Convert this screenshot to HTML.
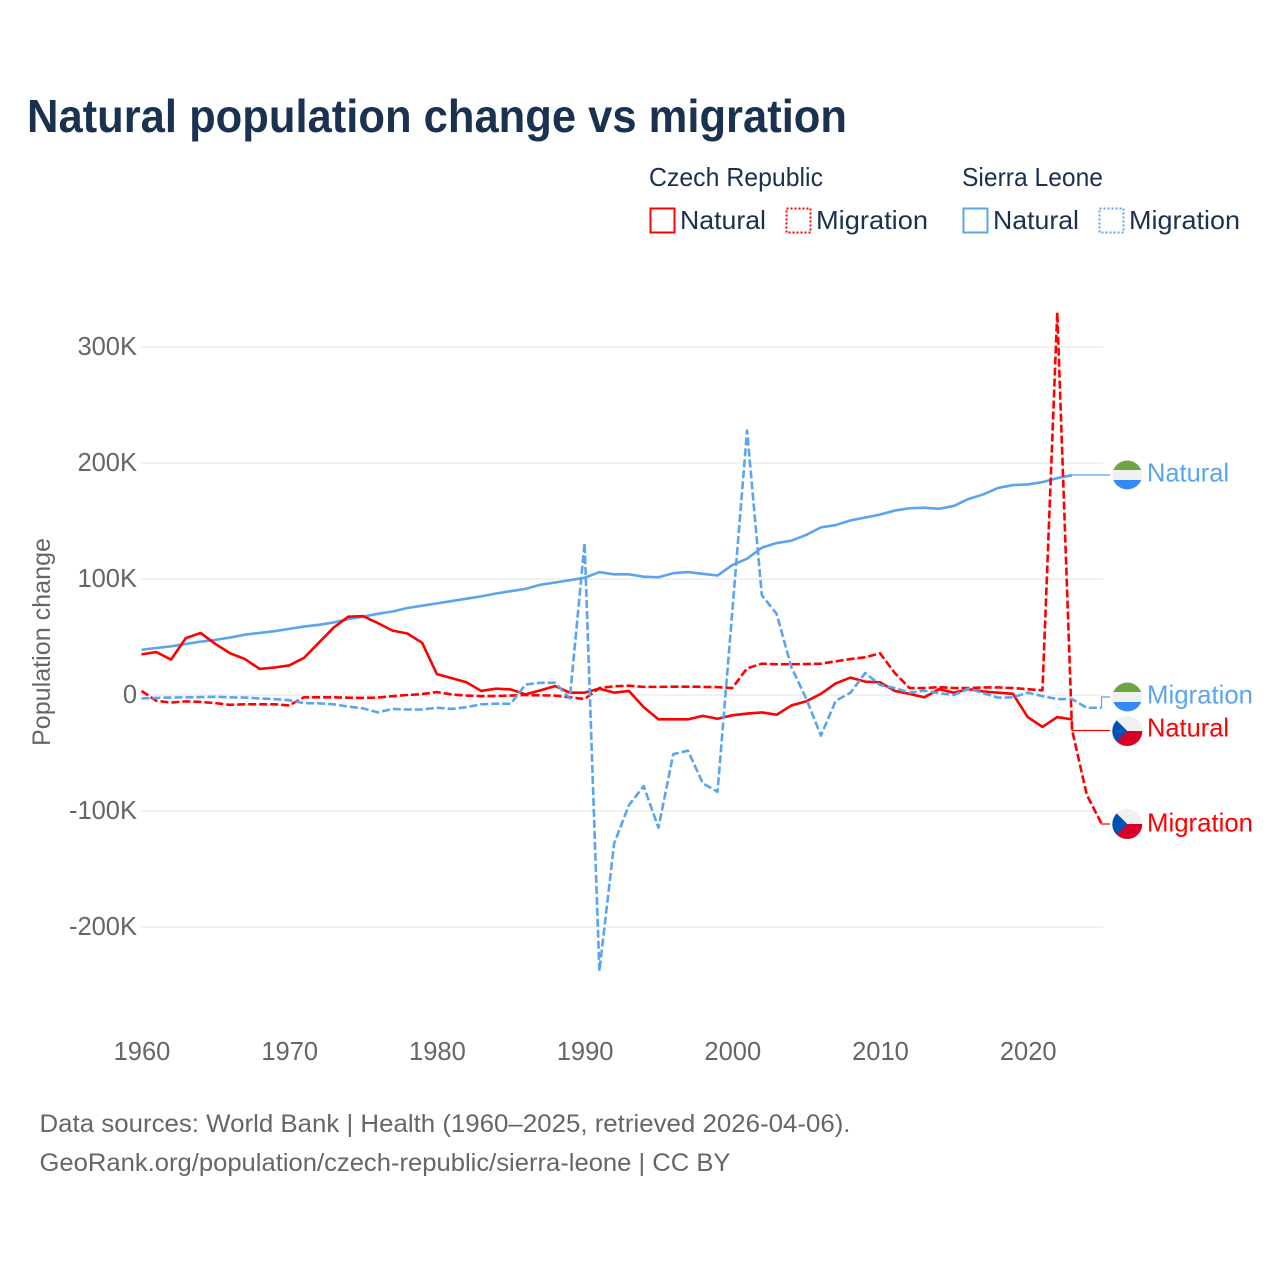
<!DOCTYPE html>
<html lang="en">
<head>
<meta charset="utf-8">
<title>Natural population change vs migration</title>
<style>
html,body{margin:0;padding:0;background:#fff;width:1280px;height:1280px;overflow:hidden}
svg{display:block}
text{font-family:"Liberation Sans",sans-serif}
</style>
</head>
<body>
<svg id="chart" width="1280" height="1280" viewBox="0 0 1280 1280" xmlns="http://www.w3.org/2000/svg">
  <rect width="1280" height="1280" fill="#ffffff"/>
  <text x="27" y="132" font-size="46" font-weight="700" fill="#1a3150" textLength="820" lengthAdjust="spacingAndGlyphs">Natural population change vs migration</text>

  <g font-size="26" fill="#1a3150">
    <text x="649" y="186" textLength="174" lengthAdjust="spacingAndGlyphs">Czech Republic</text>
    <text x="962" y="186" textLength="141" lengthAdjust="spacingAndGlyphs">Sierra Leone</text>
    <rect x="650.5" y="208.5" width="24" height="24" fill="none" stroke="#ff0000" stroke-width="2"/>
    <text x="680" y="229" textLength="86" lengthAdjust="spacingAndGlyphs">Natural</text>
    <rect x="786.5" y="208.5" width="24" height="24" fill="none" stroke="#ff0000" stroke-width="2" stroke-dasharray="2 2"/>
    <text x="816" y="229" textLength="112" lengthAdjust="spacingAndGlyphs">Migration</text>
    <rect x="963.5" y="208.5" width="24" height="24" fill="none" stroke="#5ba4ee" stroke-width="2"/>
    <text x="993" y="229" textLength="86" lengthAdjust="spacingAndGlyphs">Natural</text>
    <rect x="1099.5" y="208.5" width="24" height="24" fill="none" stroke="#5ba4ee" stroke-width="2" stroke-dasharray="2 2"/>
    <text x="1129" y="229" textLength="111" lengthAdjust="spacingAndGlyphs">Migration</text>
  </g>

  <g id="grid"></g>
  <g id="yticks"></g>
  <g id="xticks"></g>
  <text transform="translate(50 642) rotate(-90)" text-anchor="middle" font-size="25" fill="#666666" textLength="208" lengthAdjust="spacingAndGlyphs">Population change</text>
  <g id="connectors"></g>
  <g id="series"></g>

  <g transform="translate(1127.3 475)">
    <circle r="15" fill="#f0f0f0"/>
    <path d="M-13.9-5A15 15 0 0 1 13.9-5Z" fill="#6da544"/>
    <path d="M-13.9 5A15 15 0 0 0 13.9 5Z" fill="#338af3"/>
  </g>
  <g transform="translate(1127.3 697)">
    <circle r="15" fill="#f0f0f0"/>
    <path d="M-13.9-5A15 15 0 0 1 13.9-5Z" fill="#6da544"/>
    <path d="M-13.9 5A15 15 0 0 0 13.9 5Z" fill="#338af3"/>
  </g>
  <g transform="translate(1127.3 731)">
    <circle r="15" fill="#f0f0f0"/>
    <path d="M-15 0A15 15 0 0 0 15 0Z" fill="#d80027"/>
    <path d="M-10.6-10.6A15 15 0 0 0-10.6 10.6L0 0Z" fill="#0052b4"/>
  </g>
  <g transform="translate(1127.3 824)">
    <circle r="15" fill="#f0f0f0"/>
    <path d="M-15 0A15 15 0 0 0 15 0Z" fill="#d80027"/>
    <path d="M-10.6-10.6A15 15 0 0 0-10.6 10.6L0 0Z" fill="#0052b4"/>
  </g>

  <g font-size="26">
    <text x="1147" y="481.5" fill="#5ba4ee" textLength="82" lengthAdjust="spacingAndGlyphs">Natural</text>
    <text x="1147" y="703.5" fill="#5ba4ee" textLength="106" lengthAdjust="spacingAndGlyphs">Migration</text>
    <text x="1147" y="736.5" fill="#ff0000" textLength="82" lengthAdjust="spacingAndGlyphs">Natural</text>
    <text x="1147" y="831.5" fill="#ff0000" textLength="106" lengthAdjust="spacingAndGlyphs">Migration</text>
  </g>

  <g font-size="25" fill="#666666">
    <text x="39.5" y="1132" textLength="811" lengthAdjust="spacingAndGlyphs">Data sources: World Bank | Health (1960–2025, retrieved 2026-04-06).</text>
    <text x="39.5" y="1171" textLength="691" lengthAdjust="spacingAndGlyphs">GeoRank.org/population/czech-republic/sierra-leone | CC BY</text>
  </g>
</svg>
<script>
const startYear = 1960;
const xTickYears = [1960, 1970, 1980, 1990, 2000, 2010, 2020];
const yTickValues = [300, 200, 100, 0, -100, -200];
const yTickLabels = ["300K", "200K", "100K", "0", "-100K", "-200K"];

// Values in thousands, one per year from 1960
const czechNatural = [35, 37, 30.5, 49, 53.5, 44, 36, 31, 22.5, 23.7, 25.5, 32, 45, 58, 67.5, 68, 62, 55.5, 53, 45,
  18, 14.5, 11, 3.5, 5.5, 4.8, 0.5, 4, 7.7, 2, 2, 5.5, 2, 3.5, -10.5, -21, -21, -21, -18, -20.5,
  -17.5, -16, -15, -17, -9, -5.5, 1, 10, 15, 11.5, 11, 3.5, 1, -2, 5, 2, 5, 3, 2, 1,
  -19, -27.5, -19, -21];
const czechMigration = [3.5, -5, -6.5, -5.5, -6, -7, -8.5, -8, -8, -8, -9, -2, -2, -2, -2.3, -2.5, -2.2, -1, 0, 0.8,
  2.5, 0.5, -0.5, -1, -0.8, -0.5, 0, -0.3, -0.5, -2, -3.5, 6, 7.5, 8, 7, 7, 7.2, 7.2, 7, 6.8,
  6, 23, 27, 26.5, 26.5, 26.7, 27, 29, 31, 32.5, 36, 19, 6, 6, 6.8, 6, 6, 6.5, 6.5, 6,
  5, 4, 330, -30, -86, -111];
const sierraNatural = [39, 40.5, 42, 44, 46, 47.5, 49.5, 52, 53.5, 55, 57, 59, 60.5, 62.5, 65.5, 67.5, 70, 72, 75, 77,
  79, 81, 83, 85, 87.5, 89.5, 91.5, 95, 97, 99, 101, 106, 104, 104, 102, 101.5, 105, 106, 104.5, 103,
  112, 117.5, 127, 131, 133, 138, 144.5, 146.5, 150.5, 153, 155.5, 159, 161, 161.5, 160.5, 163, 169, 173, 178.5, 181,
  181.5, 183.5, 187, 189.5];
const sierraMigration = [-3, -2.5, -2.2, -2, -1.8, -1.5, -2, -2.2, -3, -3.5, -4.5, -7, -7.2, -8, -10, -11.5, -15, -12, -12.5, -12.5,
  -11, -12, -10.5, -8, -7.5, -7.5, 9, 10.5, 10.5, -3, 131, -238, -128, -95, -78.5, -114.5, -51, -48, -76, -83.5,
  72, 228, 86, 70, 24, -3, -35, -5, 2, 19, 8.6, 6, 2, 3.7, 1.5, 0, 5.5, 1.5, -2.3, -2,
  2, -1, -3.5, -3.5, -11, -11];

const xScale = year => 141.5 + (year - startYear) * 14.77;
const yScale = value => 695 - value * 1.16;
const svgNS = "http://www.w3.org/2000/svg";
const BLUE = "#5ba4ee";
const RED = "#ff0000";
const LABEL_X = 1110;

function make(tag, parentId, attrs) {
  const el = document.createElementNS(svgNS, tag);
  Object.keys(attrs).forEach(k => el.setAttribute(k, attrs[k]));
  document.getElementById(parentId).appendChild(el);
  return el;
}

yTickValues.forEach((v, i) => {
  const line = make("line", "grid", {x1: 141, x2: 1103, y1: yScale(v), y2: yScale(v), stroke: "#ebebeb", "stroke-width": 1.3});
  
  
  const label = make("text", "yticks", {x: 137, y: yScale(v) + 8, "text-anchor": "end", "font-size": 25.5, fill: "#666666"});
  
  
  label.textContent = yTickLabels[i];
});

xTickYears.forEach(year => {
  const label = make("text", "xticks", {x: xScale(year) + 0.5, y: 1060, "text-anchor": "middle", "font-size": 25.5, fill: "#666666"});
  
  
  label.textContent = String(year);
});

function linePath(values) {
  return values.map((v, i) => (i ? "L" : "M") + xScale(startYear + i).toFixed(2) + " " + yScale(v).toFixed(2)).join("");
}

function drawSeries(values, color, dashed, name) {
  const path = make("path", "series", {d: linePath(values), fill: "none", stroke: color, "stroke-width": 2.6, "stroke-linejoin": "round"});
  if (dashed) path.setAttribute("stroke-dasharray", "8 3");
  
  
}

function drawConnector(values, color, labelY, name) {
  const endX = xScale(startYear + values.length - 1).toFixed(2);
  const endY = yScale(values[values.length - 1]).toFixed(2);
  const path = make("path", "connectors", {d: "M" + endX + " " + endY + "V" + labelY + "H" + LABEL_X, fill: "none", stroke: color, "stroke-width": 1.2});
  
  
}

drawConnector(sierraNatural, BLUE, 475, "connector-sierra-natural");
drawConnector(sierraMigration, BLUE, 697, "connector-sierra-migration");
drawConnector(czechNatural, RED, 730.5, "connector-czech-natural");
drawConnector(czechMigration, RED, 824, "connector-czech-migration");

drawSeries(sierraNatural, BLUE, false, "line-sierra-natural");
drawSeries(czechNatural, RED, false, "line-czech-natural");
drawSeries(czechMigration, RED, true, "line-czech-migration");
drawSeries(sierraMigration, BLUE, true, "line-sierra-migration");
</script>
</body>
</html>
